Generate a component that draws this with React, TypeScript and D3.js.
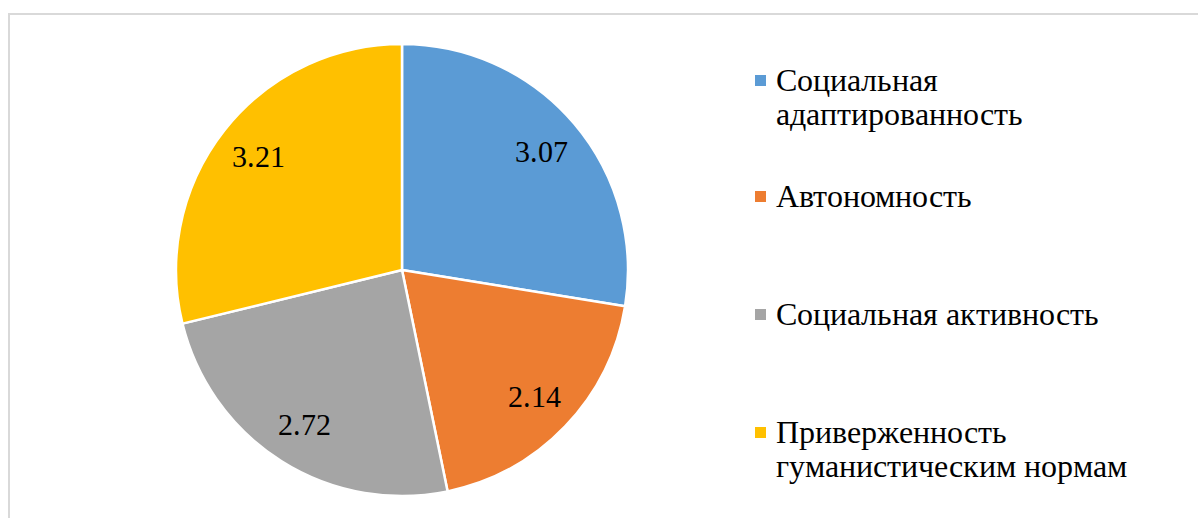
import React, { useEffect, useRef } from "react";
import * as d3 from "d3";

const categories = [
  "Социальная адаптированность",
  "Автономность",
  "Социальная активность",
  "Приверженность гуманистическим нормам",
];
const values = [3.07, 2.14, 2.72, 3.21];
const colors = ["#5B9BD5", "#ED7D31", "#A5A5A5", "#FFC000"];
const legendLines = [
  ["Социальная", "адаптированность"],
  ["Автономность"],
  ["Социальная активность"],
  ["Приверженность", "гуманистическим нормам"],
];

const W = 1198;
const H = 518;
const cx = 402;
const cy = 270;
const R = 226;
const FONT =
  'ChartSerif, "Liberation Serif", "Times New Roman", Tinos, "Noto Serif", "DejaVu Serif", serif';

const fontCss = `
@font-face {
  font-family: "ChartSerif";
  src: local("Liberation Serif"), local("LiberationSerif"), local("LiberationSerif-Regular"),
       local("Times New Roman"), local("Tinos"), local("Noto Serif"), local("DejaVu Serif");
}
`;

export default function App() {
  const ref = useRef<SVGSVGElement | null>(null);

  useEffect(() => {
    const svg = d3.select(ref.current);
    svg.selectAll("*").remove();

    svg.append("style").text(fontCss);

    svg
      .append("rect")
      .attr("x", 0)
      .attr("y", 0)
      .attr("width", W)
      .attr("height", H)
      .attr("fill", "#ffffff");
    svg
      .append("rect")
      .attr("x", 9)
      .attr("y", 14)
      .attr("width", 1250)
      .attr("height", 600)
      .attr("fill", "none")
      .attr("stroke", "#d9d9d9")
      .attr("stroke-width", 2);

    const pie = d3.pie<number>().sort(null).value((d) => d)(values);
    const arc = d3.arc<d3.PieArcDatum<number>>().innerRadius(0).outerRadius(R);
    const labelArc = d3
      .arc<d3.PieArcDatum<number>>()
      .innerRadius(R * 0.81)
      .outerRadius(R * 0.81);

    const g = svg.append("g").attr("transform", `translate(${cx},${cy})`);
    g.selectAll("path.slice")
      .data(pie)
      .join("path")
      .attr("class", "slice")
      .attr("d", (d) => arc(d) || "")
      .attr("fill", (_d, i) => colors[i])
      .attr("stroke", "#ffffff")
      .attr("stroke-width", 2.5)
      .attr("stroke-linejoin", "round");

    const draw = () => {
      svg.selectAll("g.txt").remove();
      const t = svg.append("g").attr("class", "txt");
      const lg = t.append("g").attr("transform", `translate(${cx},${cy})`);
      lg.selectAll("text")
        .data(pie)
        .join("text")
        .attr("x", (d) => labelArc.centroid(d)[0])
        .attr("y", (d) => labelArc.centroid(d)[1] + 10.5)
        .attr("text-anchor", "middle")
        .attr("font-family", FONT)
        .style("font-family", FONT)
        .style("font-size", "30px")
        .attr("fill", "#000000")
        .text((_d, i) => values[i].toFixed(2));

      const legendBaselines = [91, 207, 325, 443];
      const lineGap = 34;
      categories.forEach((_c, i) => {
        const item = t.append("g");
        item
          .append("rect")
          .attr("x", 755)
          .attr("y", legendBaselines[i] - 16)
          .attr("width", 11)
          .attr("height", 11)
          .attr("fill", colors[i]);
        const tx = item
          .append("text")
          .attr("font-family", FONT)
          .style("font-family", FONT)
          .style("font-size", "32px")
          .attr("fill", "#000000");
        legendLines[i].forEach((ln, j) => {
          tx.append("tspan")
            .attr("x", 776)
            .attr("y", legendBaselines[i] + j * lineGap)
            .text(ln);
        });
      });
    };

    draw();
    const fs: any = (document as any).fonts;
    if (fs && fs.load) {
      Promise.all([
        fs.load('30px ChartSerif', "Социальная 3.07"),
        fs.load('30px "Liberation Serif"', "Социальная 3.07"),
      ])
        .then(() => fs.ready)
        .then(draw)
        .catch(draw);
    }
  }, []);

  return (
    <svg
      ref={ref}
      width={W}
      height={H}
      style={{ position: "absolute", left: 0, top: 0, display: "block", fontFamily: FONT }}
    />
  );
}
